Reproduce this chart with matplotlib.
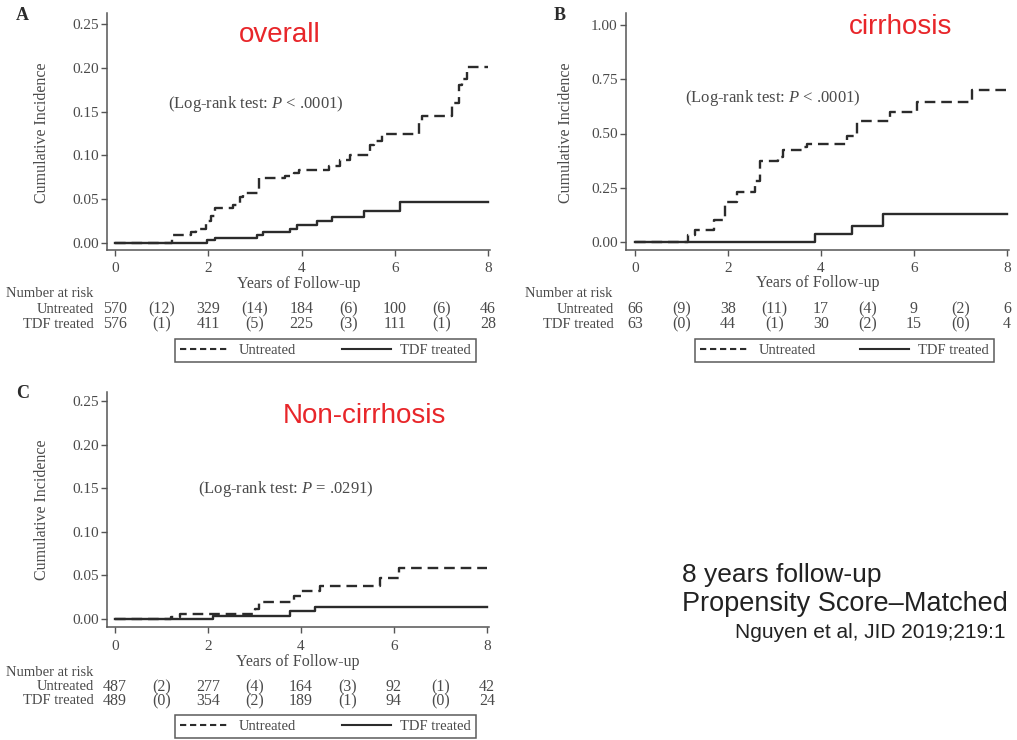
import numpy as np
import matplotlib
matplotlib.use('Agg')
import matplotlib.pyplot as plt
from matplotlib.lines import Line2D
from matplotlib.transforms import blended_transform_factory

plt.rcParams['font.family'] = ['Liberation Serif', 'DejaVu Serif']
plt.rcParams['mathtext.fontset'] = 'custom'
plt.rcParams['mathtext.rm'] = 'Liberation Serif'
plt.rcParams['mathtext.it'] = 'Liberation Serif:italic'

W, H = 1017, 740

# ---- data ----
x_ticks = [0, 2, 4, 6, 8]
risk_pos = [0, 1, 2, 3, 4, 5, 6, 7, 8]

# A: overall
a_unt_t = [0, 1.22, 1.62, 1.73, 1.95, 2.05, 2.15, 2.54, 2.68, 2.75, 3.08, 3.65, 3.83, 3.94, 4.58, 4.83, 5.04, 5.47, 5.55, 5.72, 6.51, 6.58, 7.23, 7.37, 7.44, 7.55, 8.0]
a_unt_y = [0, 0.009, 0.012, 0.016, 0.025, 0.031, 0.040, 0.043, 0.052, 0.057, 0.074, 0.077, 0.080, 0.083, 0.088, 0.095, 0.101, 0.112, 0.117, 0.125, 0.138, 0.145, 0.160, 0.180, 0.187, 0.201, 0.201]
a_tdf_t = [0, 1.97, 2.15, 3.04, 3.18, 3.76, 3.9, 4.33, 4.65, 5.33, 6.12, 8.0]
a_tdf_y = [0, 0.003, 0.006, 0.009, 0.012, 0.016, 0.020, 0.025, 0.030, 0.037, 0.047, 0.047]
a_risk_unt = ['570', '(12)', '329', '(14)', '184', '(6)', '100', '(6)', '46']
a_risk_tdf = ['576', '(1)', '411', '(5)', '225', '(3)', '111', '(1)', '28']

# B: cirrhosis
b_unt_t = [0, 1.15, 1.29, 1.69, 1.94, 2.19, 2.58, 2.69, 3.08, 3.19, 3.62, 3.69, 4.56, 4.77, 5.49, 6.06, 7.25, 8.0]
b_unt_y = [0, 0.03, 0.057, 0.10, 0.186, 0.229, 0.279, 0.371, 0.39, 0.425, 0.44, 0.452, 0.489, 0.558, 0.60, 0.647, 0.70, 0.70]
b_tdf_t = [0, 3.87, 4.66, 5.34, 8.0]
b_tdf_y = [0, 0.037, 0.075, 0.13, 0.13]
b_risk_unt = ['66', '(9)', '38', '(11)', '17', '(4)', '9', '(2)', '6']
b_risk_tdf = ['63', '(0)', '44', '(1)', '30', '(2)', '15', '(0)', '4']

# C: non-cirrhosis
c_unt_t = [0, 1.2, 1.4, 3.0, 3.1, 3.85, 4.0, 4.4, 5.7, 6.1, 8.0]
c_unt_y = [0, 0.002, 0.006, 0.012, 0.020, 0.026, 0.032, 0.038, 0.047, 0.058, 0.058]
c_tdf_t = [0, 2.1, 3.76, 4.3, 8.0]
c_tdf_y = [0, 0.0034, 0.0088, 0.0138, 0.0138]
c_risk_unt = ['487', '(2)', '277', '(4)', '164', '(3)', '92', '(1)', '42']
c_risk_tdf = ['489', '(0)', '354', '(2)', '189', '(1)', '94', '(0)', '24']

ink = '#2b2b2b'
grey = '#4a4a4a'
red = '#e8262a'

fig = plt.figure(figsize=(W / 100, H / 100), dpi=100)


def fy(px):
    return 1 - px / H


def panel(x0px, x8px, y0px, ytpx, ytval, spl, spb, toppx, yticks):
    sx = (x8px - x0px) / 8
    sy = (y0px - ytpx) / ytval
    ax = fig.add_axes([spl / W, fy(spb), (x8px + 2 - spl) / W, (spb - toppx) / H])
    ax.set_xlim((spl - x0px) / sx, (x8px + 2 - x0px) / sx)
    ax.set_ylim((y0px - spb) / sy, (y0px - toppx) / sy)
    for s in ['top', 'right']:
        ax.spines[s].set_visible(False)
    for s in ['left', 'bottom']:
        ax.spines[s].set_color('#555555')
        ax.spines[s].set_linewidth(1.1)
    ax.set_xticks(x_ticks)
    ax.set_yticks(yticks)
    ax.set_yticklabels(['%.2f' % v for v in yticks])
    ax.tick_params(colors='#555555', labelcolor=grey, labelsize=11, length=4, width=1)
    ax.tick_params(axis='y', pad=2)
    ax.tick_params(axis='x', pad=5)
    ax.set_facecolor('none')
    return ax


def curves(ax, ut, uy, tt, ty):
    ax.step(ut, uy, where='post', color=ink, lw=1.7, linestyle=(0, (4.5, 2.5)))
    ax.step(tt, ty, where='post', color=ink, lw=1.7)


def labels(ax, xlab_px, ylab_px, yl_cx):
    ax.text(0.5, fy(xlab_px), 'Years of Follow-up', transform=blended_transform_factory(ax.transAxes, fig.transFigure),
            ha='center', va='center', fontsize=11.5, color=grey)
    fig.text(yl_cx / W, fy(ylab_px), 'Cumulative Incidence', rotation=90, ha='center', va='center',
             fontsize=11.5, color=grey)


def risk_table(ax, nar_x, nar_y, lab_r, row1, row2, unt, tdf):
    tr = blended_transform_factory(ax.transData, fig.transFigure)
    fig.text(nar_x / W, fy(nar_y), 'Number at risk', ha='left', va='center', fontsize=10.5, color=grey)
    fig.text(lab_r / W, fy(row1), 'Untreated', ha='right', va='center', fontsize=10.5, color=grey)
    fig.text(lab_r / W, fy(row2), 'TDF treated', ha='right', va='center', fontsize=10.5, color=grey)
    for xp, u, t in zip(risk_pos, unt, tdf):
        ax.text(xp, fy(row1), u, transform=tr, ha='center', va='center', fontsize=11.5, color=grey)
        ax.text(xp, fy(row2), t, transform=tr, ha='center', va='center', fontsize=11.5, color=grey)


def legend(ax, l, r, t, b):
    h = [Line2D([], [], color=ink, lw=1.5, linestyle=(0, (3, 1.8))),
         Line2D([], [], color=ink, lw=1.5)]
    leg = ax.legend(h, ['Untreated', 'TDF treated'], loc='center',
                    bbox_to_anchor=(l / W, fy(b), (r - l) / W, (b - t) / H),
                    bbox_transform=fig.transFigure, ncol=2, mode='expand', borderaxespad=0,
                    frameon=True, fancybox=False, edgecolor='#333333', handlelength=3.4,
                    handletextpad=0.6, fontsize=10.5, borderpad=0.35)
    leg.get_frame().set_linewidth(1.1)
    for tx in leg.get_texts():
        tx.set_color(grey)


# panel A
axA = panel(115, 488, 243, 24, 0.25, 107, 250, 13, [0, 0.05, 0.10, 0.15, 0.20, 0.25])
curves(axA, a_unt_t, a_unt_y, a_tdf_t, a_tdf_y)
labels(axA, 284, 133, 42)
risk_table(axA, 6, 294, 94, 309, 324, a_risk_unt, a_risk_tdf)
legend(axA, 175, 476, 339, 362)
fig.text(16 / W, fy(16), 'A', fontsize=13, fontweight='bold', color=ink, ha='left', va='center')
fig.text(256 / W, fy(104), '(Log-rank test: $P$ < .0001)', fontsize=12, color=grey, ha='center', va='center')
fig.text(280 / W, fy(35), 'overall', fontsize=20, color=red, family='Liberation Sans', ha='center', va='center')

# panel B
axB = panel(635, 1007, 242, 25, 1.0, 626, 250, 13, [0, 0.25, 0.50, 0.75, 1.00])
curves(axB, b_unt_t, b_unt_y, b_tdf_t, b_tdf_y)
labels(axB, 283, 133, 566)
risk_table(axB, 525, 294, 614, 309, 324, b_risk_unt, b_risk_tdf)
legend(axB, 695, 994, 339, 362)
fig.text(554 / W, fy(16), 'B', fontsize=13, fontweight='bold', color=ink, ha='left', va='center')
fig.text(773 / W, fy(98), '(Log-rank test: $P$ < .0001)', fontsize=12, color=grey, ha='center', va='center')
fig.text(901 / W, fy(27), 'cirrhosis', fontsize=20, color=red, family='Liberation Sans', ha='center', va='center')

# panel C
axC = panel(115, 487, 619, 401, 0.25, 107, 627, 392, [0, 0.05, 0.10, 0.15, 0.20, 0.25])
curves(axC, c_unt_t, c_unt_y, c_tdf_t, c_tdf_y)
labels(axC, 662, 510, 42)
risk_table(axC, 6, 672, 94, 687, 701, c_risk_unt, c_risk_tdf)
legend(axC, 175, 476, 715, 738)
fig.text(16 / W, fy(394), 'C', fontsize=13, fontweight='bold', color=ink, ha='left', va='center')
fig.text(286 / W, fy(489), '(Log-rank test: $P$ = .0291)', fontsize=12, color=grey, ha='center', va='center')
fig.text(364 / W, fy(416), 'Non-cirrhosis', fontsize=20, color=red, family='Liberation Sans', ha='center', va='center')

# notes on the right
fig.text(682 / W, fy(575), '8 years follow-up', fontsize=19, color='#222222', family='Liberation Sans', ha='left', va='center')
fig.text(682 / W, fy(604), 'Propensity Score\u2013Matched', fontsize=19.5, color='#222222', family='Liberation Sans', ha='left', va='center')
fig.text(735 / W, fy(633), 'Nguyen et al, JID 2019;219:1', fontsize=15, color='#222222', family='Liberation Sans', ha='left', va='center')

fig.savefig('out.png', dpi=100)
